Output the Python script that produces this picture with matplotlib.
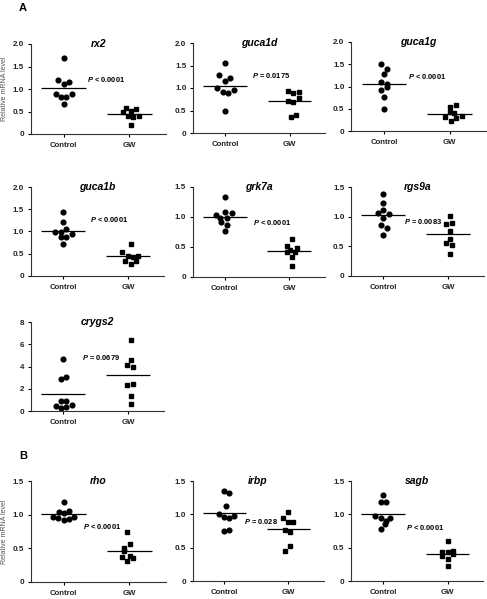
import numpy as np
import matplotlib.pyplot as plt

plt.rcParams['font.family'] = ['Liberation Sans', 'DejaVu Sans']
plt.rcParams['mathtext.fontset'] = 'custom'
plt.rcParams['mathtext.it'] = 'Liberation Sans:italic:bold'
plt.rcParams['mathtext.rm'] = 'Liberation Sans:bold'

# data
genes = ['rx2', 'guca1d', 'guca1g', 'guca1b', 'grk7a', 'rgs9a', 'crygs2', 'rho', 'irbp', 'sagb']
groups = ['Control', 'GW']
p_labels = ['< 0.0001', '= 0.0175', '< 0.0001', '< 0.0001', '< 0.0001', '= 0.0083',
            '= 0.0679', '< 0.0001', '= 0.028', '< 0.0001']
y_max = [2.0, 2.0, 2.0, 2.0, 1.5, 1.5, 8, 1.5, 1.5, 1.5]

ctrl = [
    [1.70, 1.20, 1.11, 1.16, 0.90, 0.83, 0.83, 0.90, 0.66],
    [1.55, 1.28, 1.23, 1.16, 0.99, 0.92, 0.90, 0.95, 0.49],
    [1.51, 1.39, 1.27, 1.11, 1.06, 1.00, 0.92, 0.77, 0.49],
    [1.43, 1.22, 1.05, 0.98, 0.99, 0.87, 0.88, 0.94, 0.73],
    [1.34, 1.04, 1.08, 1.07, 0.99, 0.92, 0.86, 0.76, 0.99],
    [1.38, 1.23, 1.12, 1.07, 1.05, 0.98, 0.86, 0.81, 0.69],
    [4.69, 2.86, 3.07, 0.93, 0.90, 0.42, 0.27, 0.39, 0.57],
    [1.19, 1.06, 1.04, 1.03, 0.97, 0.95, 0.96, 0.92, 0.93],
    [1.35, 1.32, 1.12, 1.00, 0.96, 0.95, 0.98, 0.77, 0.75],
    [1.29, 1.19, 1.19, 0.97, 0.94, 0.94, 0.90, 0.85, 0.78],
]
gw = [
    [0.57, 0.56, 0.48, 0.51, 0.39, 0.37, 0.40, 0.19],
    [0.93, 0.89, 0.91, 0.78, 0.71, 0.69, 0.36, 0.39],
    [0.58, 0.53, 0.43, 0.31, 0.29, 0.33, 0.22, 0.40],
    [0.72, 0.54, 0.44, 0.42, 0.46, 0.34, 0.34, 0.26],
    [0.63, 0.52, 0.49, 0.45, 0.41, 0.41, 0.34, 0.18],
    [1.01, 0.88, 0.89, 0.76, 0.63, 0.56, 0.52, 0.37],
    [6.41, 4.60, 4.09, 3.94, 2.35, 2.47, 1.35, 0.66],
    [0.74, 0.57, 0.50, 0.46, 0.37, 0.38, 0.36, 0.31],
    [1.03, 0.94, 0.89, 0.89, 0.77, 0.74, 0.52, 0.45],
    [0.60, 0.43, 0.44, 0.45, 0.38, 0.40, 0.33, 0.22],
]

# horizontal scatter of the dots within each group
ctrl_dx = [
    [0, -0.08, 0, 0.08, -0.12, -0.04, 0.04, 0.12, 0],
    [0, -0.09, 0.08, 0, -0.13, -0.04, 0.04, 0.13, 0],
    [-0.05, 0.05, 0, -0.04, 0.04, 0.05, -0.05, 0, 0],
    [0, 0, 0.05, -0.12, -0.04, -0.03, 0.05, 0.13, 0],
    [0, -0.13, 0, 0.12, -0.08, -0.05, 0.03, 0, 0.04],
    [0, 0, 0, -0.08, 0.09, 0, -0.04, 0.05, 0],
    [0, -0.03, 0.05, -0.03, 0.05, -0.11, -0.03, 0.05, 0.13],
    [0, 0.08, -0.07, 0.01, -0.16, -0.08, 0.16, 0.01, 0.08],
    [-0.01, 0.07, 0.03, -0.09, -0.01, 0.07, 0.15, 0.07, -0.01],
    [0, -0.04, 0.04, -0.12, -0.04, 0.11, 0.04, 0.03, -0.04],
]
gw_dx = [
    [-0.06, 0.10, -0.10, 0.03, -0.02, 0.06, 0.14, 0.03],
    [-0.03, 0.06, 0.14, 0.14, -0.03, 0.06, 0.02, 0.10],
    [0.10, 0.01, 0.01, -0.07, 0.10, 0.18, 0.02, 0.06],
    [0.04, -0.09, 0, 0.08, 0.15, -0.05, 0.12, 0.04],
    [0.05, -0.04, 0.13, 0.01, 0.09, -0.04, 0.05, 0.05],
    [0.02, -0.03, 0.06, 0.02, 0.02, -0.03, 0.06, 0.02],
    [0.04, 0.04, -0.01, 0.08, -0.01, 0.08, 0.04, 0.04],
    [-0.04, 0.01, -0.08, -0.08, -0.12, 0.01, 0.05, -0.04],
    [-0.01, -0.09, -0.01, 0.07, -0.05, 0.03, 0.03, -0.05],
    [0, -0.08, 0, 0.08, -0.08, 0.08, 0, 0],
]

# layout in pixels: (left, top, width, height) and P-label anchor in data units
W, H = 487, 599
boxes = [
    (30.7, 44, 135, 90), (193, 43, 132, 90), (351, 42, 135, 89),
    (30.7, 187, 133, 89), (192.5, 187, 132, 90), (351, 187, 133, 89),
    (30.7, 322, 133, 89),
    (30.7, 481, 135, 101), (192.5, 481, 131, 100), (351, 481, 132, 100),
]
p_pos = [(0.36, 1.20), (0.42, 1.28), (0.37, 1.23), (0.42, 1.27), (0.44, 0.90),
         (0.32, 0.915), (0.29, 4.84), (0.29, 0.83), (0.30, 0.885), (0.36, 0.81)]

fig = plt.figure(figsize=(W / 100, H / 100), dpi=100)

for i, g in enumerate(genes):
    l, t, w, h = boxes[i]
    ax = fig.add_axes([l / W, 1 - (t + h) / H, w / W, h / H])
    ax.plot(np.array(ctrl_dx[i]), ctrl[i], 'o', color='black', markersize=3.4, clip_on=False)
    ax.plot(1 + np.array(gw_dx[i]), gw[i], 's', color='black', markersize=3.1, clip_on=False)
    ax.hlines(np.mean(ctrl[i]), -0.34, 0.34, color='black', linewidth=0.9)
    ax.hlines(np.mean(gw[i]), 0.66, 1.34, color='black', linewidth=0.9)

    ax.set_xlim(-0.5, 1.55)
    ax.set_ylim(0, y_max[i])
    ax.set_xticks([0, 1])
    ax.set_xticklabels(groups, fontsize=5.6, fontweight='bold', color='#222222')
    if y_max[i] == 8:
        yt = [0, 2, 4, 6, 8]
        ylab = ['0', '2', '4', '6', '8']
    else:
        yt = np.arange(0, y_max[i] + 0.01, 0.5)
        ylab = ['0'] + ['%.1f' % v for v in yt[1:]]
    ax.set_yticks(yt)
    ax.set_yticklabels(ylab, fontsize=5.8, fontweight='bold', color='#222222')
    ax.tick_params(axis='x', length=2.5, width=0.8, pad=3.5)
    ax.tick_params(axis='y', length=2.2, width=0.8, pad=2.5)
    for s in ['top', 'right']:
        ax.spines[s].set_visible(False)
    for s in ['left', 'bottom']:
        ax.spines[s].set_linewidth(0.8)
        ax.spines[s].set_color('#333333')

    ax.text(0.5, 1.0, g, transform=ax.transAxes, ha='center', va='center',
            fontsize=7.5, fontstyle='italic', fontweight='bold')
    ax.text(p_pos[i][0], p_pos[i][1], r'$\it{P}$ ' + p_labels[i], ha='left', va='center',
            fontsize=5.4, fontweight='bold')

    if g in ('rx2', 'rho'):
        fig.text(5 / W, 1 - (t + h / 2) / H, 'Relative mRNA level', rotation=90,
                 ha='center', va='center', fontsize=5, color='#555555')

fig.text(23 / W, 1 - 8 / H, 'A', fontsize=8, fontweight='bold', ha='center', va='center')
fig.text(23 / W, 1 - 456 / H, 'B', fontsize=8, fontweight='bold', ha='center', va='center')

fig.savefig('out.png', dpi=100)
